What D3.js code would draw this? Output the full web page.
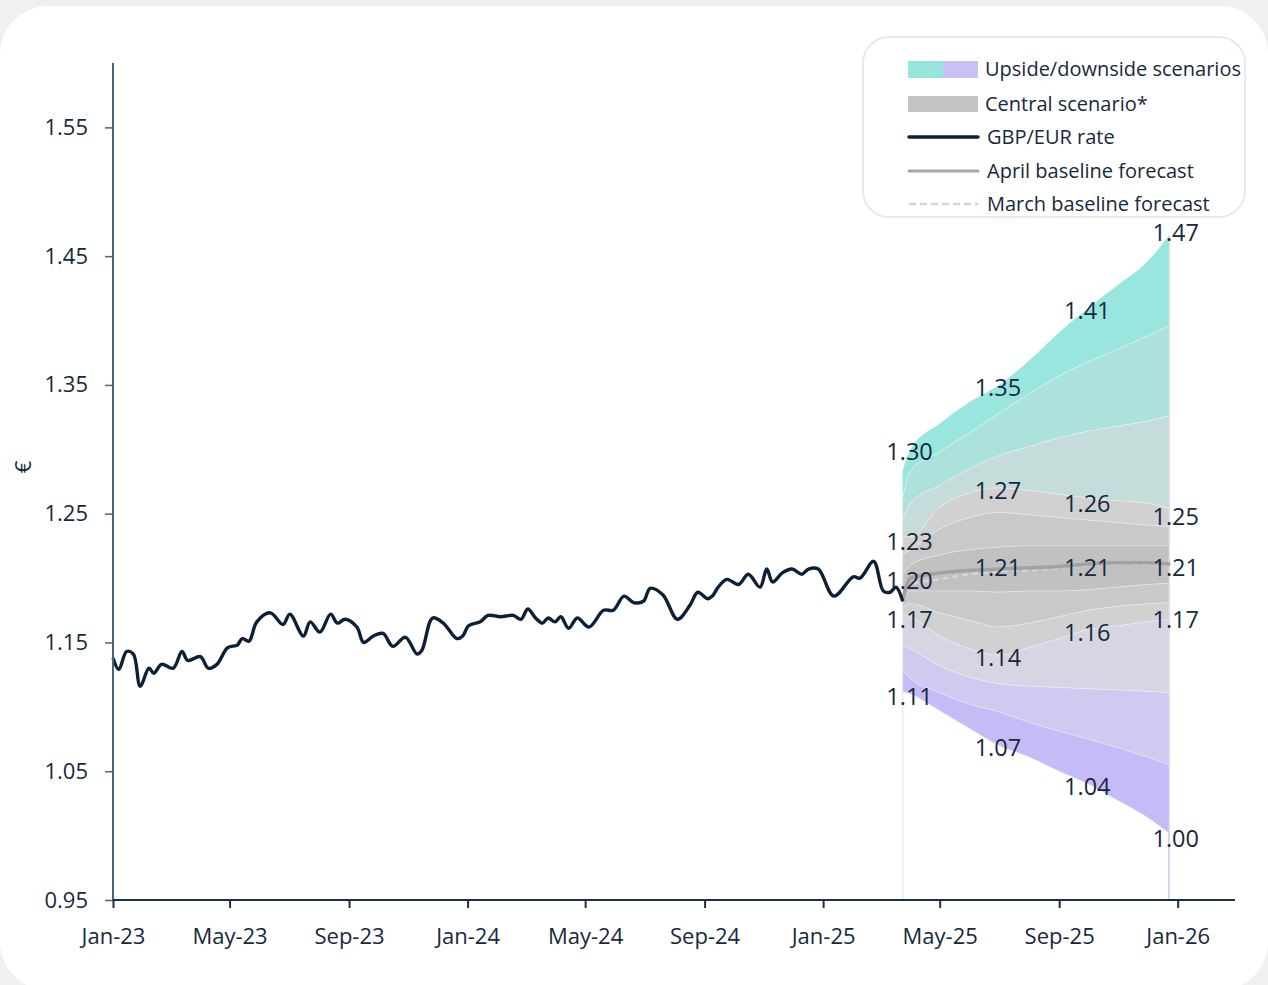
<!DOCTYPE html>
<html>
<head>
<meta charset="utf-8">
<script src="https://cdn.jsdelivr.net/npm/d3@7"></script>
<style>
  html, body { margin: 0; padding: 0; background: #eef0f2; }
  svg { display: block; }
  text { font-family: "Open Sans", "Noto Sans", sans-serif; fill: #16293d; }
</style>
</head>
<body>
<svg id="chart" width="1268" height="985"></svg>
<script>
// GBP/EUR history (weekly-ish observations)
const histDates = [
  "2023-01-01","2023-01-07","2023-01-15","2023-01-22","2023-01-29","2023-02-07","2023-02-12","2023-02-20",
  "2023-03-04","2023-03-13","2023-03-19","2023-04-01","2023-04-09","2023-04-18","2023-04-29","2023-05-09",
  "2023-05-14","2023-05-21","2023-05-29","2023-06-12","2023-06-25","2023-07-02","2023-07-16","2023-07-23",
  "2023-08-02","2023-08-13","2023-08-20","2023-08-28","2023-09-09","2023-09-16","2023-09-26","2023-10-06",
  "2023-10-16","2023-10-29","2023-11-10","2023-11-15","2023-11-26","2023-12-07","2023-12-21","2023-12-27",
  "2024-01-02","2024-01-14","2024-01-22","2024-02-04","2024-02-17","2024-02-25","2024-03-03","2024-03-11",
  "2024-03-18","2024-03-24","2024-03-31","2024-04-06","2024-04-14","2024-04-23","2024-05-05","2024-05-20",
  "2024-05-30","2024-06-10","2024-06-20","2024-06-30","2024-07-07","2024-07-20","2024-08-04","2024-08-17",
  "2024-08-25","2024-09-04","2024-09-09","2024-09-15","2024-09-24","2024-10-06","2024-10-16","2024-10-28",
  "2024-11-04","2024-11-10","2024-11-20","2024-11-30","2024-12-10","2024-12-17","2024-12-27","2025-01-12",
  "2025-02-01","2025-02-08","2025-02-22","2025-03-04","2025-03-11","2025-03-17","2025-03-24"
];
const histRate = [
  1.138,1.129,1.143,1.141,1.116,1.130,1.126,1.133,
  1.130,1.143,1.136,1.139,1.130,1.133,1.146,1.148,
  1.153,1.151,1.166,1.173,1.164,1.172,1.155,1.166,
  1.158,1.172,1.165,1.168,1.162,1.150,1.155,1.157,
  1.147,1.154,1.141,1.144,1.169,1.165,1.153,1.155,
  1.163,1.166,1.171,1.170,1.171,1.168,1.176,1.169,
  1.165,1.169,1.166,1.170,1.161,1.169,1.162,1.175,
  1.175,1.186,1.181,1.182,1.192,1.187,1.168,1.179,
  1.189,1.184,1.186,1.193,1.199,1.195,1.203,1.193,
  1.207,1.197,1.204,1.207,1.203,1.207,1.207,1.186,
  1.201,1.200,1.213,1.190,1.189,1.193,1.182
];

// Forecast fan: dates and band boundaries, top to bottom
const fanDates = ["2025-03-24","2025-04-01","2025-05-01","2025-06-01","2025-07-01","2025-08-01",
                  "2025-09-01","2025-10-01","2025-11-01","2025-12-01","2025-12-23"];
const upsideOuter  = [1.284,1.300,1.320,1.337,1.350,1.369,1.391,1.410,1.428,1.446,1.466];
const upsideMid    = [1.262,1.283,1.298,1.313,1.328,1.343,1.357,1.368,1.378,1.388,1.396];
const upsideInner  = [1.245,1.258,1.272,1.285,1.295,1.302,1.309,1.314,1.318,1.322,1.326];
const centralTop   = [1.232,1.232,1.255,1.266,1.270,1.268,1.265,1.262,1.260,1.258,1.254];
const centralUp2   = [1.218,1.222,1.238,1.247,1.251,1.249,1.247,1.245,1.243,1.241,1.240];
const centralUp1   = [1.202,1.210,1.218,1.222,1.224,1.225,1.225,1.225,1.225,1.225,1.225];
const centralLow1  = [1.185,1.190,1.190,1.190,1.189,1.190,1.190,1.191,1.193,1.195,1.196];
const centralLow2  = [1.178,1.180,1.173,1.167,1.162,1.165,1.170,1.175,1.178,1.180,1.181];
const centralBottom= [1.172,1.170,1.155,1.145,1.140,1.146,1.153,1.160,1.163,1.166,1.168];
const downsideInner= [1.148,1.145,1.132,1.123,1.118,1.116,1.115,1.114,1.113,1.112,1.111];
const downsideMid  = [1.128,1.122,1.111,1.102,1.096,1.088,1.081,1.075,1.068,1.061,1.055];
const downsideOuter= [1.112,1.110,1.097,1.083,1.070,1.061,1.050,1.040,1.027,1.014,1.002];

// Baseline forecast paths
const aprilBaseline = [1.183,1.200,1.204,1.206,1.207,1.208,1.209,1.211,1.212,1.212,1.211];
const marchBaseline = [1.183,1.195,1.199,1.203,1.205,1.206,1.208,1.210,1.211,1.211,1.210];

// Value labels on the fan
const labelDates = ["2025-04-01","2025-07-01","2025-10-01","2025-12-31"];
const labelTop      = [1.30,1.35,1.41,1.47];
const labelCentTop  = [1.23,1.27,1.26,1.25];
const labelMedian   = [1.20,1.21,1.21,1.21];
const labelCentBot  = [1.17,1.14,1.16,1.17];
const labelBottom   = [1.11,1.07,1.04,1.00];

// Axis ticks
const yTicks = [0.95,1.05,1.15,1.25,1.35,1.45,1.55];
const xTickDates = ["2023-01-01","2023-05-01","2023-09-01","2024-01-01","2024-05-01","2024-09-01",
                    "2025-01-01","2025-05-01","2025-09-01","2026-01-01"];

const legendItems = ["Upside/downside scenarios","Central scenario*","GBP/EUR rate",
                     "April baseline forecast","March baseline forecast"];

const parse = d3.utcParse("%Y-%m-%d");
const svg = d3.select("#chart");

// card
svg.append("rect").attr("x", 0).attr("y", 6).attr("width", 1268).attr("height", 984)
  .attr("rx", 48).attr("fill", "#ffffff");

const x = d3.scaleUtc().domain([parse("2023-01-01"), parse("2026-03-01")]).range([113, 1235]);
const y = d3.scaleLinear().domain([0.95, 1.60]).range([900, 63]);

const fd = fanDates.map(parse);
const bounds = [upsideOuter, upsideMid, upsideInner, centralTop, centralUp2, centralUp1,
                centralLow1, centralLow2, centralBottom, downsideInner, downsideMid, downsideOuter];
const bandColors = ["#98e6de","#ace2dc","#c5dcda","#d1d1d1","#c9c9c9","#c1c1c1",
                    "#c9c9c9","#d1d1d1","#d7d5e4","#cfcaef","#c5bcf7"];

// vertical edges of the forecast window
const g0 = svg.append("g");
g0.append("line").attr("x1", x(fd[0])).attr("x2", x(fd[0]))
  .attr("y1", y(upsideOuter[0])).attr("y2", y(0.95))
  .attr("stroke", "#e2e8ee").attr("stroke-width", 1.2);
g0.append("line").attr("x1", x(fd[fd.length-1])).attr("x2", x(fd[fd.length-1]))
  .attr("y1", y(upsideOuter[fd.length-1])).attr("y2", y(0.95))
  .attr("stroke", "#d3d9ea").attr("stroke-width", 2);

const area = d3.area()
  .x((d, i) => x(fd[i]))
  .y0(d => y(d[1]))
  .y1(d => y(d[0]))
  .curve(d3.curveMonotoneX);

const fanG = svg.append("g");
for (let b = 0; b < bandColors.length; b++) {
  const pts = fd.map((_, i) => [bounds[b][i], bounds[b + 1][i]]);
  fanG.append("path").attr("d", area(pts))
    .attr("fill", bandColors[b])
    .attr("stroke", "#ffffff").attr("stroke-opacity", 0.35).attr("stroke-width", 0.8);
}

const fLine = d3.line().x((d, i) => x(fd[i])).y(d => y(d)).curve(d3.curveMonotoneX);
svg.append("path").attr("d", fLine(marchBaseline)).attr("fill", "none")
  .attr("stroke", "#d6d6d6").attr("stroke-width", 2.5).attr("stroke-dasharray", "6,4");
svg.append("path").attr("d", fLine(aprilBaseline)).attr("fill", "none")
  .attr("stroke", "#a2a2a2").attr("stroke-width", 3.5).attr("stroke-linecap", "round");

// historical rate
const hd = histDates.map(parse);
const hLine = d3.line().x((d, i) => x(hd[i])).y(d => y(d)).curve(d3.curveCatmullRom.alpha(0.5));
svg.append("path").attr("d", hLine(histRate)).attr("fill", "none")
  .attr("stroke", "#0c2137").attr("stroke-width", 3.4).attr("stroke-linejoin", "round");

// axes
const yAxis = svg.append("g").attr("transform", "translate(113,0)")
  .call(d3.axisLeft(y).tickValues(yTicks).tickFormat(d3.format(".2f")).tickSize(8).tickPadding(17));
yAxis.select(".domain").attr("stroke", "#4d6378").attr("stroke-width", 2)
  .attr("d", `M0,${y(1.60)}V${y(0.95)}`);
yAxis.selectAll(".tick line").attr("stroke", "#4d6378").attr("stroke-width", 1.5);
yAxis.selectAll(".tick text").attr("font-size", 22).attr("fill", "#16293d")
  .style("font-family", "'Open Sans', sans-serif");

const xAxis = svg.append("g").attr("transform", "translate(0,900)")
  .call(d3.axisBottom(x).tickValues(xTickDates.map(parse)).tickFormat(d3.utcFormat("%b-%y"))
    .tickSize(8).tickPadding(20));
xAxis.select(".domain").attr("stroke", "#1b3047").attr("stroke-width", 2)
  .attr("d", `M113,0H1235`);
xAxis.selectAll(".tick line").attr("stroke", "#1b3047").attr("stroke-width", 2);
xAxis.selectAll(".tick text").attr("font-size", 22).attr("fill", "#16293d")
  .style("font-family", "'Open Sans', sans-serif");

svg.append("text").attr("transform", "translate(22,467) rotate(-90)")
  .attr("text-anchor", "middle").attr("dominant-baseline", "central")
  .attr("font-size", 22).text("€");

// fan labels
const ld = labelDates.map(parse);
const labelRows = [labelTop, labelCentTop, labelMedian, labelCentBot, labelBottom];
const lg = svg.append("g");
labelRows.forEach(row => {
  row.forEach((v, i) => {
    lg.append("text").attr("x", x(ld[i]) - 1).attr("y", y(v) + 2)
      .attr("text-anchor", "middle").attr("dominant-baseline", "central")
      .attr("font-size", 23.5).text(d3.format(".2f")(v));
  });
});

// legend
const leg = svg.append("g");
leg.append("rect").attr("x", 863).attr("y", 37).attr("width", 382).attr("height", 180)
  .attr("rx", 26).attr("fill", "#ffffff").attr("stroke", "#e6e9ec").attr("stroke-width", 2);
const rowY = [69, 104, 137, 171, 204];
leg.append("rect").attr("x", 908).attr("y", rowY[0] - 8).attr("width", 35).attr("height", 17).attr("fill", "#97e6dd");
leg.append("rect").attr("x", 943).attr("y", rowY[0] - 8).attr("width", 35).attr("height", 17).attr("fill", "#c8c0f6");
leg.append("rect").attr("x", 908).attr("y", rowY[1] - 8).attr("width", 70).attr("height", 16).attr("fill", "#c4c4c4");
leg.append("line").attr("x1", 909).attr("x2", 978).attr("y1", rowY[2]).attr("y2", rowY[2])
  .attr("stroke", "#0c2137").attr("stroke-width", 3.5).attr("stroke-linecap", "round");
leg.append("line").attr("x1", 909).attr("x2", 978).attr("y1", rowY[3]).attr("y2", rowY[3])
  .attr("stroke", "#a6a6a6").attr("stroke-width", 3).attr("stroke-linecap", "round");
leg.append("line").attr("x1", 909).attr("x2", 978).attr("y1", rowY[4]).attr("y2", rowY[4])
  .attr("stroke", "#d6d6d6").attr("stroke-width", 2.5).attr("stroke-dasharray", "7,4");
legendItems.forEach((t, i) => {
  leg.append("text").attr("x", i < 2 ? 985 : 987).attr("y", rowY[i] - 1)
    .attr("dominant-baseline", "central").attr("font-size", 20).text(t);
});
</script>
</body>
</html>
